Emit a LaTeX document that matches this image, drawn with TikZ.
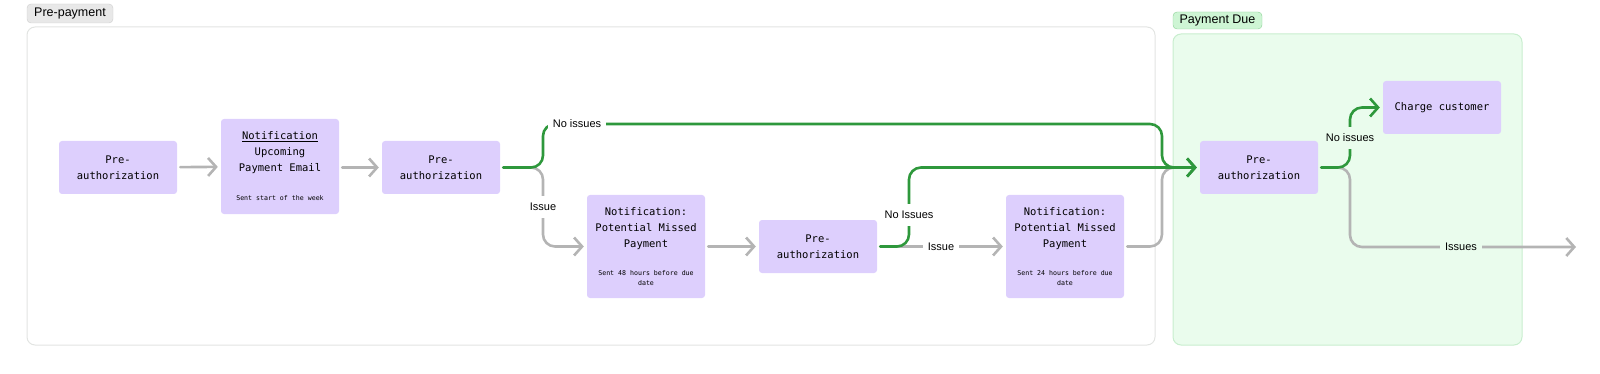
\documentclass[tikz,border=0pt]{standalone}
\usepackage{fontspec}
\setmainfont{Liberation Sans}
\setmonofont{DejaVu Sans Mono}
\usetikzlibrary{arrows.meta,positioning}
\definecolor{flowpurple}{RGB}{221,207,253}
\definecolor{flowgreen}{RGB}{46,152,60}
\definecolor{flowgray}{RGB}{180,180,180}
\definecolor{duefill}{RGB}{234,252,237}
\definecolor{dueline}{RGB}{200,238,206}
\definecolor{preline}{RGB}{226,228,226}
\definecolor{pretag}{RGB}{232,232,232}
\definecolor{pretagline}{RGB}{205,205,205}
\definecolor{duetag}{RGB}{206,245,212}
\definecolor{duetagline}{RGB}{140,210,150}

\begin{document}
\begin{tikzpicture}[x=1pt,y=-1pt,line cap=round,line join=round,
  >={Straight Barb[length=8pt,width=18pt]},
  stepbox/.style={fill=flowpurple,rounded corners=3pt,minimum width=118pt,
    minimum height=53pt,inner sep=0pt,align=center,
    font=\ttfamily\fontsize{10.5}{16}\selectfont},
  steptext/.style={inner sep=0pt,align=center,
    font=\ttfamily\fontsize{10.5}{16}\selectfont},
  note/.style={inner sep=0pt,align=center,
    font=\ttfamily\fontsize{6.6}{10}\selectfont},
  flow/.style={->,line width=2.6pt,rounded corners=12pt,
    shorten <=3pt,shorten >=3pt},
  yes/.style={flow,flowgreen},
  no/.style={flow,flowgray},
  tag/.style={inner xsep=5pt,inner ysep=7pt,font=\fontsize{11}{13}\selectfont},
  frametag/.style={draw,rounded corners=4pt,inner sep=0pt,
    font=\fontsize{12.5}{14}\selectfont}
]
 \useasboundingbox (0,0) rectangle (1600,374);
 % Ramki etapów.
 \draw[preline,line width=1pt,rounded corners=8pt] (27,27) rectangle (1155,345);
 \draw[dueline,fill=duefill,line width=1pt,rounded corners=8pt] (1173,34) rectangle (1522,345);
 \node[frametag,fill=pretag,draw=pretagline,minimum width=86pt,minimum height=19pt]
  (pre) at (70,13.5) {Pre-payment};
 \node[frametag,fill=duetag,draw=duetagline,minimum width=89pt,minimum height=17pt]
  (due) at (1217.5,20.5) {Payment Due};
 % Kroki.
 \node[stepbox] (b1) at (118,167.5) {Pre-\\authorization};
 \node[stepbox,minimum height=95pt] (b2) at (280,166.5) {};
 \node[steptext,below=13pt of b2.north] (b2t) {\underline{Notification}\\Upcoming\\Payment Email};
 \node[note,above=13pt of b2.south] (b2n) {Sent start of the week};
 \node[stepbox] (b3) at (441,167.5) {Pre-\\authorization};
 \node[stepbox,minimum height=103pt] (b4) at (646,246.5) {};
 \node[steptext,below=12.5pt of b4.north] (b4t) {Notification:\\Potential Missed\\Payment};
 \node[note,above=12pt of b4.south] (b4n) {Sent 48 hours before due\\date};
 \node[stepbox] (b5) at (818,246.5) {Pre-\\authorization};
 \node[stepbox,minimum height=103pt] (b6) at (1065,246.5) {};
 \node[steptext,below=12.5pt of b6.north] (b6t) {Notification:\\Potential Missed\\Payment};
 \node[note,above=12pt of b6.south] (b6n) {Sent 24 hours before due\\date};
 \node[stepbox] (b7) at (1259,167.5) {Pre-\\authorization};
 \node[stepbox] (b8) at (1442,107.5) {Charge customer};
 \coordinate (out) at (1576,247);
 % Szare przejścia.
 \draw[no] (b1) -- (b2);
 \draw[no] (b2.east |- b1) -- (b3);
 \draw[no] (b3.east) -- (543,167.5) -- (543,246.5) -- (b4.west);
 \draw[no] (b4) -- (b5);
 \draw[no] (b5) -- (b6);
 \draw[no] (b6.east) -- (1162,246.5) -- (1162,167.5) -- (b7.west);
 \draw[no,shorten >=0pt] (b7.east) -- (1350,167.5) -- (1350,247) -- (out);
 % Zielone przejścia.
 \draw[yes] (b3.east) -- (543,167.5) -- (543,124) -- (1162,124) -- (1162,167.5) -- (b7.west);
 \draw[yes] (b5.east) -- (909,246.5) -- (909,167.5) -- (b7.west);
 \draw[yes] (b7.east) -- (1350,167.5) -- (1350,107.5) -- (b8.west);
 % Etykiety.
 \node[tag,fill=white] (ok1) at (577,124) {No issues};
 \node[tag,fill=white] (bad1) at (543,207) {Issue};
 \node[tag,fill=white] (ok2) at (909,215) {No Issues};
 \node[tag,fill=white] (bad2) at (941,247) {Issue};
 \node[tag,fill=duefill] (ok3) at (1350,138) {No issues};
 \node[tag,fill=duefill] (bad3) at (1461,247) {Issues};
\end{tikzpicture}
\end{document}
